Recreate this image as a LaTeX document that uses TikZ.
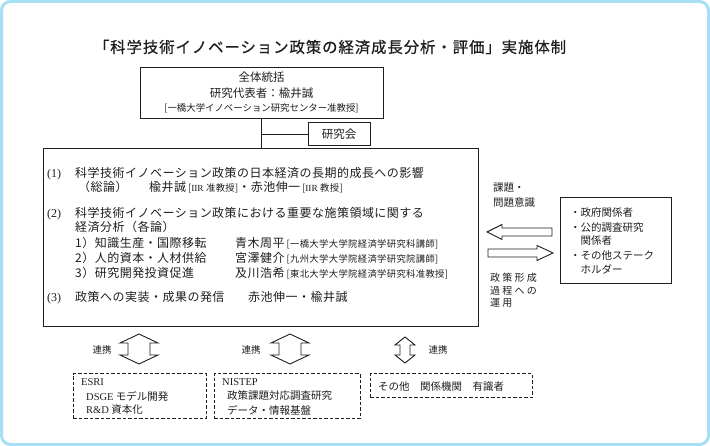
\documentclass[tikz,border=0pt]{standalone}
\usepackage{fontspec}
\setmainfont{Noto Sans CJK JP}
\newfontfamily\lat{Liberation Serif}
\newfontfamily\ttlfont[FakeBold=0.6,LetterSpace=6]{Noto Sans CJK JP}
\newfontfamily\spcfont[LetterSpace=22]{Noto Sans CJK JP}
\newfontfamily\bodyfont[LetterSpace=4]{Noto Sans CJK JP}
\newcommand\smf{\fontsize{9.3}{10}\selectfont}
\definecolor{frameblue}{RGB}{166,224,245}
\definecolor{ink}{RGB}{30,30,30}
\begin{document}
\begin{tikzpicture}[x=1pt,y=-1pt,
  t/.style={anchor=base west,inner sep=0pt,text=ink,font=\bodyfont\fontsize{12}{13}\selectfont},
  tm/.style={anchor=west,inner sep=0pt,text=ink,font=\fontsize{10.5}{12}\selectfont},
  tc/.style={inner sep=0pt,text=ink,font=\fontsize{11.5}{12}\selectfont},
  solidbox/.style={draw=ink,line width=1pt,inner sep=0pt},
  dashbox/.style={draw=ink,line width=1pt,dash pattern=on 3.5pt off 2pt,inner sep=0pt},
  blockarrow/.style={draw=ink,line width=0.9pt,fill=white,line join=miter},
  link/.style={draw=ink,line width=1pt}]
\useasboundingbox (0,0) rectangle (710,446);
\draw[frameblue,line width=3pt,rounded corners=9pt] (1.5,1.5) rectangle (708.5,444.5);

% title
\node[inner sep=0pt,text=ink,font=\ttlfont\fontsize{15.4}{18}\selectfont] (title) at (330,47) {「科学技術イノベーション政策の経済成長分析・評価」実施体制};

% top box
\node[solidbox,minimum width=243pt,minimum height=51pt] (top) at (261.5,93.5) {};
\node[tc] (l1) at (261.5,77) {全体統括};
\node[tc] (l2) at (261.5,93) {研究代表者：楡井誠};
\node[tc,font=\fontsize{9.4}{10}\selectfont] (l3) at (261.5,108.5) {[一橋大学イノベーション研究センター准教授]};

% kenkyukai
\node[solidbox,minimum width=62pt,minimum height=23pt,tc] (ken) at (339,134.5) {研究会};

% main box
\node[solidbox,minimum width=435pt,minimum height=178pt] (main) at (260.5,238) {};
\draw[link] (top.south) -- (top.south |- main.north);
\draw[link] (top.south |- ken.west) -- (ken.west);

\node[t] (n1) at (47,177.5) {\lat (1)};
\node[t] (r1) at (75,177.5) {科学技術イノベーション政策の日本経済の長期的成長への影響};
\node[t] (r1b) at (78,192) {（総論）};
\node[t] (r1c) at (149,192) {楡井誠\,{\smf[{\lat IIR} 准教授]}・赤池伸一\,{\smf[{\lat IIR} 教授]}};
\node[t] (n2) at (47,217.5) {\lat (2)};
\node[t] (r2) at (75,217.5) {科学技術イノベーション政策における重要な施策領域に関する};
\node[t] (r2b) at (75,232) {経済分析（各論）};
\node[t] (s1) at (75,248) {1）知識生産・国際移転};
\node[t] (p1) at (235,248) {青木周平\,{\smf[一橋大学大学院経済学研究科講師]}};
\node[t] (s2) at (75,263) {2）人的資本・人材供給};
\node[t] (p2) at (235,263) {宮澤健介\,{\smf[九州大学大学院経済学研究院講師]}};
\node[t] (s3) at (75,278) {3）研究開発投資促進};
\node[t] (p3) at (235,278) {及川浩希\,{\smf[東北大学大学院経済学研究科准教授]}};
\node[t] (n3) at (47,302) {\lat (3)};
\node[t] (r3) at (75,302) {政策への実装・成果の発信};
\node[t] (r3b) at (248,302) {赤池伸一・楡井誠};

% right side
\node[tm] (k1) at (493,188) {課題・};
\node[tm] (k2) at (493,203) {問題意識};
\draw[blockarrow] (487,232) -- (502,224.5) -- (502,228) -- (552,228) -- (552,236) -- (502,236) -- (502,239.5) -- cycle;
\draw[blockarrow] (553,253) -- (537,245.5) -- (537,249) -- (488,249) -- (488,257) -- (537,257) -- (537,260.5) -- cycle;
\node[tm,font=\spcfont\fontsize{10}{12}\selectfont] (u1) at (490,278) {政策形成};
\node[tm,font=\spcfont\fontsize{10}{12}\selectfont] (u2) at (490,290.5) {過程への};
\node[tm,font=\spcfont\fontsize{10}{12}\selectfont] (u3) at (490,303) {運用};

\node[solidbox,minimum width=111pt,minimum height=86pt] (stake) at (615.5,241) {};
\node[tm] (b1) at (570,213) {・政府関係者};
\node[tm] (b2) at (570,228) {・公的調査研究};
\node[tm] (b2b) at (580.5,241) {関係者};
\node[tm] (b3) at (570,256) {・その他ステーク};
\node[tm] (b3b) at (580.5,269) {ホルダー};

% bottom arrows
\draw[blockarrow] (139,334) -- (158,343) -- (150,343) -- (150,355) -- (158,355) -- (139,364) -- (120,355) -- (128,355) -- (128,343) -- (120,343) -- cycle;
\draw[blockarrow] (290,334) -- (309,343) -- (301,343) -- (301,355) -- (309,355) -- (290,364) -- (271,355) -- (279,355) -- (279,343) -- (271,343) -- cycle;
\draw[blockarrow] (405,337) -- (415,345) -- (410,345) -- (410,355) -- (415,355) -- (405,363) -- (395,355) -- (400,355) -- (400,345) -- (395,345) -- cycle;
\node[tc,font=\fontsize{9.5}{11}\selectfont] (c1) at (102,350) {連携};
\node[tc,font=\fontsize{9.5}{11}\selectfont] (c2) at (251,350) {連携};
\node[tc,font=\fontsize{9.5}{11}\selectfont] (c3) at (438,350) {連携};

% dashed boxes
\node[dashbox,minimum width=133pt,minimum height=45pt] (esri) at (139.5,396.5) {};
\node[dashbox,minimum width=146pt,minimum height=45pt] (nistep) at (287,396.5) {};
\node[dashbox,minimum width=162pt,minimum height=24pt] (other) at (451,386) {};
\node[tm] (e1) at (81,382) {\lat ESRI};
\node[tm] (e2) at (86,396) {{\lat DSGE} モデル開発};
\node[tm] (e3) at (86,410) {{\lat R\&D} 資本化};
\node[tm] (f1) at (222,382) {\lat NISTEP};
\node[tm] (f2) at (227,396) {政策課題対応調査研究};
\node[tm] (f3) at (227,410) {データ・情報基盤};
\node[tm] (g1) at (378,387) {その他　関係機関　有識者};
\end{tikzpicture}
\end{document}
